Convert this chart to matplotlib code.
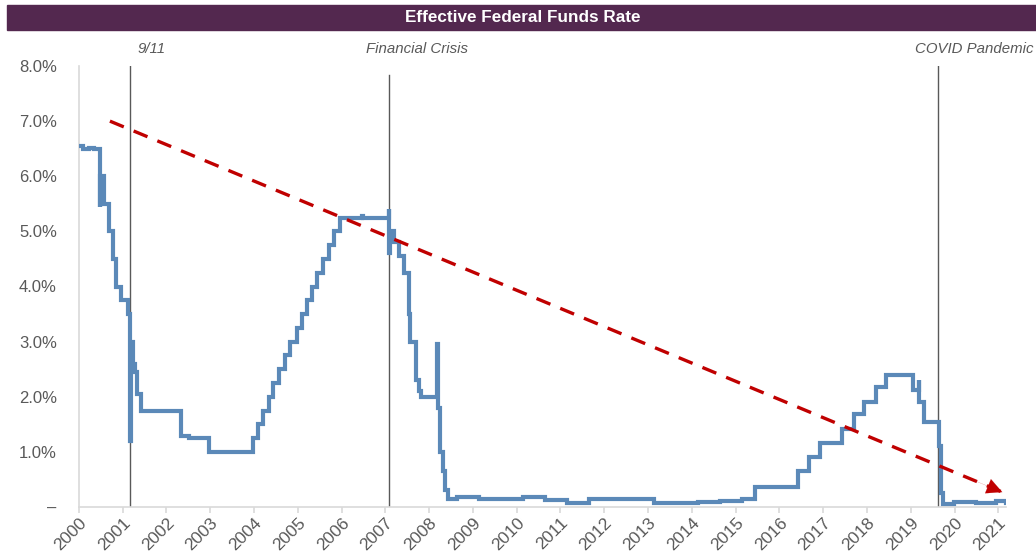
import datetime as dt
import matplotlib
matplotlib.use("Agg")
import matplotlib.pyplot as plt
import matplotlib.dates as mdates
from matplotlib.patches import Rectangle
from matplotlib.ticker import FuncFormatter

plt.rcParams['font.family'] = ['Liberation Sans', 'DejaVu Sans']

# effective fed funds rate (%), step points
rate_dates = [
    "2000-07-10", "2000-08-15", "2000-10-01", "2000-11-15", "2001-01-01", "2001-01-05",
    "2001-01-31", "2001-03-20", "2001-04-18", "2001-05-15", "2001-06-27", "2001-08-21",
    "2001-09-11", "2001-09-14", "2001-10-03", "2001-10-20", "2001-11-07", "2001-12-12",
    "2002-03-01", "2002-07-01", "2002-11-07", "2003-01-15", "2003-04-01", "2003-06-26",
    "2003-12-31", "2004-01-05", "2004-07-01", "2004-08-11", "2004-09-22", "2004-11-11",
    "2004-12-15", "2005-02-03", "2005-03-23", "2005-05-04", "2005-07-01", "2005-08-10",
    "2005-09-21", "2005-11-02", "2005-12-14", "2006-02-01", "2006-03-29", "2006-05-11",
    "2006-06-30", "2006-12-29", "2007-01-03", "2007-08-09", "2007-08-13", "2007-08-20",
    "2007-09-19", "2007-11-01", "2007-12-12", "2008-01-23", "2008-01-31", "2008-03-19",
    "2008-04-15", "2008-05-01", "2008-06-15", "2008-08-01", "2008-09-15", "2008-09-18",
    "2008-10-09", "2008-10-30", "2008-11-15", "2008-12-17", "2009-03-01", "2009-09-01",
    "2010-03-01", "2010-09-01", "2011-03-01", "2011-09-01", "2012-03-01", "2012-09-01",
    "2013-03-01", "2013-09-01", "2014-03-01", "2014-09-01", "2015-03-01", "2015-09-01",
    "2015-12-17", "2016-12-15", "2017-03-16", "2017-06-15", "2017-12-14", "2018-03-22",
    "2018-06-14", "2018-09-27", "2018-12-20", "2019-08-01", "2019-09-17", "2019-09-19",
    "2019-10-31", "2020-03-04", "2020-03-16", "2020-04-01", "2020-07-01", "2021-01-01",
    "2021-06-17", "2021-09-10",
]
rate_values = [
    6.55, 6.50, 6.52, 6.50, 5.45, 6.00,
    5.50, 5.00, 4.50, 4.00, 3.75, 3.50,
    1.20, 3.00, 2.60, 2.45, 2.05, 1.75,
    1.75, 1.75, 1.28, 1.25, 1.25, 1.00,
    1.00, 1.00, 1.25, 1.50, 1.75, 2.00,
    2.25, 2.50, 2.75, 3.00, 3.25, 3.50,
    3.75, 4.00, 4.25, 4.50, 4.75, 5.00,
    5.25, 5.28, 5.25, 5.40, 4.60, 5.00,
    4.80, 4.55, 4.25, 3.50, 3.00, 2.30,
    2.10, 2.00, 2.00, 2.00, 2.95, 1.80,
    1.00, 0.65, 0.30, 0.15, 0.18, 0.15,
    0.15, 0.19, 0.12, 0.08, 0.14, 0.15,
    0.14, 0.08, 0.07, 0.09, 0.11, 0.14,
    0.37, 0.66, 0.91, 1.16, 1.42, 1.68,
    1.91, 2.18, 2.40, 2.13, 2.30, 1.90,
    1.55, 1.10, 0.25, 0.05, 0.09, 0.08,
    0.10, 0.08,
]

event_names = ["9/11", "Financial Crisis", "COVID Pandemic"]
event_dates = ["2001-09-11", "2007-08-09", "2020-02-20"]
label_offsets = [(5, "left"), (20, "center"), (26, "center")]
line_tops = [1.0, 0.98, 1.0]

trend_dates = ["2001-03-25", "2021-08-12"]
trend_values = [7.0, 0.27]

tick_years = list(range(2000, 2022))

to_dt = lambda s: dt.datetime.strptime(s, "%Y-%m-%d")
x = [to_dt(d) for d in rate_dates]

fig = plt.figure(figsize=(10.36, 5.59), dpi=100)
fig.patches.append(Rectangle((7 / 1036, 1 - 30 / 559), 1029 / 1036, 25 / 559,
                             transform=fig.transFigure, color='#53284F', zorder=0))
fig.text(0.505, 1 - 17.5 / 559, "Effective Federal Funds Rate", color='white',
         fontsize=12.3, fontweight='bold', ha='center', va='center')

ax = fig.add_axes([79 / 1036, 1 - 507 / 559, 927 / 1036, 441 / 559])

ax.plot(x, rate_values, drawstyle='steps-post', color='#5B89B8', lw=3,
        solid_joinstyle='miter', zorder=3)

for name, d, (off, ha), top in zip(event_names, event_dates, label_offsets, line_tops):
    ax.axvline(to_dt(d), ymax=top, color='#595959', lw=1, zorder=2)
    ax.annotate(name, xy=(to_dt(d), 1), xycoords=('data', 'axes fraction'),
                xytext=(off, 12), textcoords='offset points', ha=ha, va='center',
                fontsize=10.8, style='italic', color='#595959')

# dashed trend line with arrowhead
tx = [to_dt(d) for d in trend_dates]
ax.plot(tx, trend_values, color='#C00000', lw=2.4, dashes=(4.5, 3.2),
        dash_capstyle='butt', zorder=4)
head_start = (mdates.date2num(tx[1]) - 300, trend_values[1] + 0.27)
ax.annotate('', xy=(tx[1], trend_values[1]), xytext=head_start,
            arrowprops=dict(arrowstyle='-|>,head_length=1.1,head_width=0.55',
                            color='#C00000', lw=0.1, shrinkA=0, shrinkB=0), zorder=5)

start = to_dt("2000-07-10")
ticks = [start.replace(year=y) for y in tick_years]
ax.set_xticks(ticks)
ax.set_xticklabels([str(y) for y in tick_years], rotation=45, ha='right',
                   rotation_mode='anchor', fontsize=12.5, color='#595959')
ax.set_xlim(start, to_dt("2021-09-12"))
ax.set_ylim(0, 8)
ax.set_yticks(range(0, 9))
ax.yaxis.set_major_formatter(FuncFormatter(lambda v, p: '–' if v == 0 else f"{v:.1f}%"))

for s in ['top', 'right']:
    ax.spines[s].set_visible(False)
ax.spines['left'].set_color('#D9D9D9')
ax.spines['bottom'].set_color('#D9D9D9')
ax.spines['left'].set_linewidth(1.2)
ax.spines['bottom'].set_linewidth(1.2)
ax.tick_params(axis='y', length=0, pad=16, labelsize=12, labelcolor='#595959')
ax.tick_params(axis='x', length=4, width=1.2, color='#D9D9D9', pad=2)

fig.savefig("out.png", dpi=100)
